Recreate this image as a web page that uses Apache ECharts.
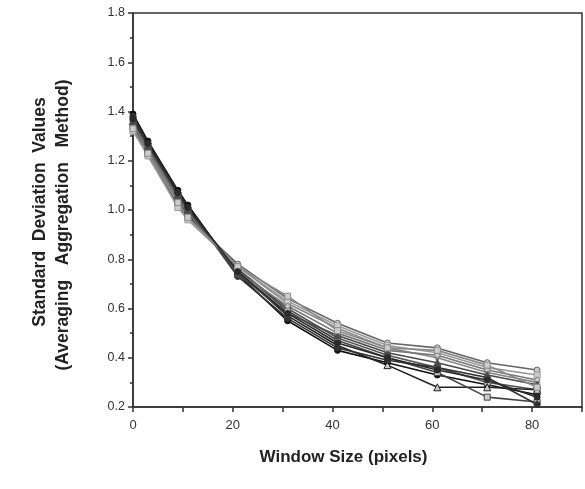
<!DOCTYPE html>
<html><head><meta charset="utf-8">
<script src="https://cdn.jsdelivr.net/npm/echarts@6/dist/echarts.min.js"></script>
<style>html,body{margin:0;padding:0;background:#fff}#c{width:585px;height:489px}</style>
</head><body><div id="c"></div>
<script>
const windowSizes = [0, 3, 9, 11, 21, 31, 41, 51, 61, 71, 81];
const s1  = [1.39, 1.28, 1.08, 1.02, 0.74, 0.55, 0.43, 0.38, 0.33, 0.29, 0.25];
const s2  = [1.37, 1.26, 1.06, 1.00, 0.76, 0.60, 0.48, 0.41, 0.36, 0.30, 0.27];
const s3  = [1.35, 1.24, 1.04, 0.98, 0.77, 0.62, 0.52, 0.44, 0.40, 0.34, 0.30];
const s4  = [1.33, 1.22, 1.02, 0.97, 0.78, 0.64, 0.54, 0.46, 0.44, 0.38, 0.35];
const s5  = [1.36, 1.25, 1.05, 0.99, 0.75, 0.57, 0.45, 0.37, 0.28, 0.28, 0.27];
const s6  = [1.34, 1.23, 1.03, 0.98, 0.76, 0.59, 0.47, 0.40, 0.34, 0.24, 0.22];
const s7  = [1.38, 1.27, 1.07, 1.01, 0.73, 0.56, 0.44, 0.39, 0.36, 0.32, 0.21];
const s8  = [1.32, 1.22, 1.01, 0.96, 0.77, 0.63, 0.53, 0.45, 0.42, 0.36, 0.33];
const s9  = [1.35, 1.25, 1.05, 0.99, 0.75, 0.61, 0.50, 0.43, 0.41, 0.35, 0.31];
const s10 = [1.36, 1.26, 1.06, 1.00, 0.74, 0.58, 0.49, 0.42, 0.38, 0.33, 0.29];
const s11 = [1.33, 1.23, 1.03, 0.97, 0.77, 0.65, 0.51, 0.44, 0.43, 0.37, 0.28];
const s12 = [1.37, 1.27, 1.07, 1.01, 0.75, 0.58, 0.46, 0.40, 0.35, 0.31, 0.24];
const seriesValues = [s1, s2, s3, s4, s5, s6, s7, s8, s9, s10, s11, s12];
const xTicks = [0, 20, 40, 60, 80];

const lineColors = ['#111','#555','#888','#666','#222','#444','#333','#999','#777','#4a4a4a','#8a8a8a','#2a2a2a'];
const symbols = ['circle','rect','diamond','circle','triangle','rect','circle','rect','diamond','triangle','rect','circle'];
const filled = [true,false,true,false,false,false,true,false,false,true,false,true];

const chart = echarts.init(document.getElementById('c'), null, {renderer:'canvas'});
const font = 'Liberation Sans, Arial, sans-serif';
chart.setOption({
  animation:false,
  backgroundColor:'#fff',
  grid:{left:133, top:13, right:1, bottom:82, show:true, borderColor:'#333', borderWidth:1.5},
  xAxis:{
    type:'value', min:0, max:90, interval:10,
    axisLine:{show:true, onZero:false, lineStyle:{color:'#333', width:1.5}},
    axisTick:{show:true, inside:false, length:5, lineStyle:{color:'#333', width:1.5}},
    axisLabel:{color:'#333', fontFamily:font, fontSize:13, margin:12,
      formatter:v=> xTicks.includes(v) ? String(v) : ''},
    splitLine:{show:false},
    name:'Window Size (pixels)', nameLocation:'middle', nameGap:42,
    nameTextStyle:{fontFamily:font, fontWeight:'bold', fontSize:17, color:'#222', padding:[0,28,0,0]}
  },
  yAxis:{
    type:'value', min:0.2, max:1.8, interval:0.2,
    axisLine:{show:true, lineStyle:{color:'#333', width:1.5}},
    axisTick:{show:true, length:5, lineStyle:{color:'#333', width:1.5}},
    minorTick:{show:true, splitNumber:2, length:3, lineStyle:{color:'#333', width:1.5}},
    axisLabel:{color:'#333', fontFamily:font, fontSize:12.5, margin:8,
      formatter:v=> (Math.round(v*10)/10).toFixed(1)},
    splitLine:{show:false}
  },
  graphic:[
    {type:'text', rotation:Math.PI/2, x:40, y:212, style:{text:'Standard  Deviation  Values', fontFamily:font, fontWeight:'bold', fontSize:17.5, fill:'#222', align:'center', verticalAlign:'middle'}},
    {type:'text', rotation:Math.PI/2, x:63, y:225, style:{text:'(Averaging   Aggregation   Method)', fontFamily:font, fontWeight:'bold', fontSize:17.5, fill:'#222', align:'center', verticalAlign:'middle'}}
  ],
  series: seriesValues.map((vals,i)=>({
    type:'line',
    data: windowSizes.map((x,j)=>[x, vals[j]]),
    symbol: symbols[i], symbolSize: symbols[i]==='triangle'?7:6,
    showAllSymbol:true,
    lineStyle:{color: lineColors[i], width:1.6},
    itemStyle:{color: filled[i] ? lineColors[i] : '#ccc', borderColor: lineColors[i], borderWidth:1},
    z: 2
  }))
});
</script></body></html>
